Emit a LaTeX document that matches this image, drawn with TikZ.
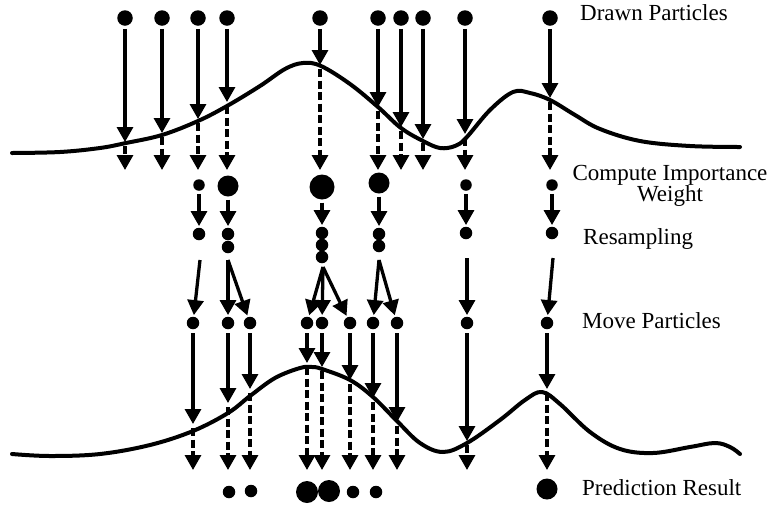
\documentclass[tikz,border=0pt]{standalone}
\usepackage{fontspec}
\setmainfont{Liberation Serif}
\usetikzlibrary{arrows.meta}
\begin{document}
\begin{tikzpicture}[x=1pt,y=-1pt,
  pdot/.style={circle,fill=black,inner sep=0pt,minimum size=#1},
  pdot/.default=12.5pt,
  arr/.style={line width=3.3pt,-{Triangle[width=16pt,length=15pt]}},
  darr/.style={arr,dash pattern=on 8pt off 3.5pt},
  curve/.style={line width=4pt,line join=round,line cap=round},
  lbl/.style={anchor=base west,inner sep=0pt,font=\fontsize{23}{22}\selectfont}]
\useasboundingbox (0,0) rectangle (771,507);

% curves
\draw[curve] plot[smooth,tension=0.6] coordinates {(12,153) (60,152) (100,148) (126,143) (162,135) (198,121) (227,106) (260,86) (285,69) (303,63) (321,66) (350,84) (378,107) (401,128) (423,141) (440,148) (455,146) (466,138) (490,110) (513,92) (530,93) (550,100) (575,115) (600,129) (640,141) (690,146) (740,147)};
\draw[curve] plot[smooth,tension=0.6] coordinates {(12,454) (50,456) (100,454) (150,445) (193,431) (228,413) (250,396) (275,378) (300,368) (312,367) (322,369) (350,380) (373,397) (397,421) (420,443) (443,452) (467,443) (500,420) (525,400) (542,392) (560,404) (590,432) (620,449) (653,453) (690,447) (715,443) (730,447) (740,454)};

% drawn particles
\foreach \i/\x/\t in {1/125/142,2/162/133,3/198/119,4/227/102,5/320/65,6/378/107,7/401/127,8/423/139,9/465/134,10/550/98}{
  \node[pdot=15.5pt] (a\i) at (\x,18) {};
  \coordinate (t\i) at (\x,\t);
  \coordinate (e\i) at (\x,170);
  \draw[arr,shorten <=3pt] (a\i) -- (t\i);
  \draw[darr,shorten <=4pt] (t\i) -- (e\i);
}

% importance weights
\node[pdot=11.5pt] (w3) at (199,185) {};
\node[pdot=21pt] (w4) at (228,186) {};
\node[pdot=25pt] (w5) at (322,187) {};
\node[pdot=21pt] (w6) at (379,183) {};
\node[pdot=11.5pt] (w9) at (466,185) {};
\node[pdot=11.5pt] (w10) at (552,185) {};

% resampling
\node[pdot] (r3) at (199,234) {};
\node[pdot] (r4a) at (228,234) {};
\node[pdot] (r4b) at (228,247) {};
\node[pdot] (r5a) at (322,233) {};
\node[pdot] (r5b) at (322,245) {};
\node[pdot] (r5c) at (322,257) {};
\node[pdot] (r6a) at (379,234) {};
\node[pdot] (r6b) at (379,246) {};
\node[pdot] (r9) at (466,233) {};
\node[pdot] (r10) at (552,233) {};

\foreach \a/\b in {w3/r3,w4/r4a,w5/r5a,w6/r6a,w9/r9,w10/r10}
  \draw[arr,shorten <=3pt,shorten >=1.5pt] (\a) -- (\b);

% split points
\coordinate (p3) at (200,260);
\coordinate (p4) at (228,260);
\coordinate (p5) at (323,267);
\coordinate (p6) at (379,260);
\coordinate (p9) at (467,258);
\coordinate (p10) at (553,258);

% moved particles
\foreach \i/\x/\t in {1/193/424,2/228/403,3/250/389,4/307/363,5/322/367,6/350/380,7/373/398,8/397/422,9/467/441,10/547/389}{
  \node[pdot] (m\i) at (\x,323) {};
  \coordinate (u\i) at (\x,\t);
  \coordinate (f\i) at (\x,470);
  \draw[arr,shorten <=4pt] (m\i) -- (u\i);
  \draw[darr,shorten <=4pt] (u\i) -- (f\i);
}

\foreach \a/\b in {p3/m1,p4/m2,p4/m3,p5/m4,p5/m5,p5/m6,p6/m7,p6/m8,p9/m9,p10/m10}
  \draw[arr,shorten >=1.5pt] (\a) -- (\b);

% prediction
\node[pdot] (q1) at (229,492) {};
\node[pdot] (q2) at (251,491) {};
\node[pdot=22pt] (q3) at (307,492) {};
\node[pdot=22pt] (q4) at (329,491) {};
\node[pdot] (q5) at (353,492) {};
\node[pdot] (q6) at (376,492) {};
\node[pdot=21pt] (q7) at (547,489) {};

% labels
\node[lbl] (l1) at (580,20) {Drawn Particles};
\node[anchor=base,inner sep=0pt,align=center,font=\fontsize{23}{21}\selectfont] (l2) at (670,201) {Compute Importance\\Weight};
\node[lbl] (l3) at (583,244) {Resampling};
\node[lbl] (l4) at (582,328) {Move Particles};
\node[lbl] (l5) at (582,495) {Prediction Result};
\end{tikzpicture}
\end{document}
